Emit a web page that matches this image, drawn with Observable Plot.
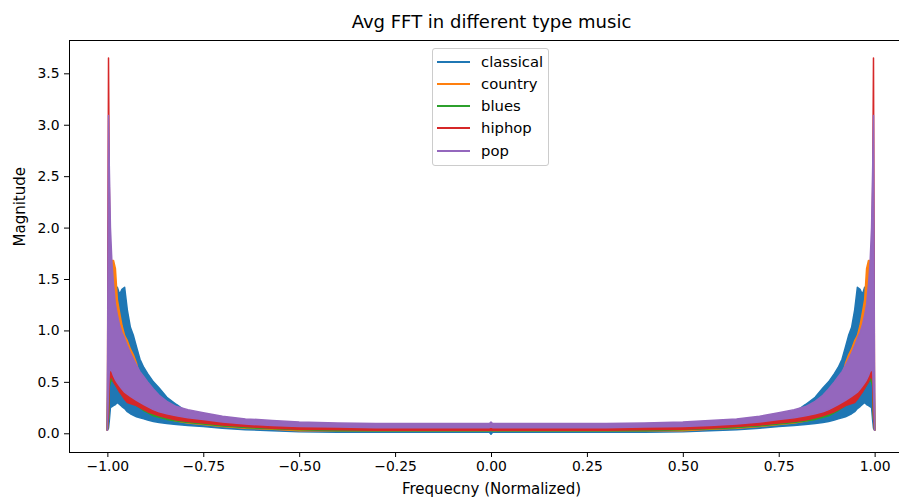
<!DOCTYPE html>
<html>
<head>
<meta charset="utf-8">
<script src="https://cdn.jsdelivr.net/npm/d3@7"></script>
<script src="https://cdn.jsdelivr.net/npm/@observablehq/plot@0.6"></script>
<style>
  html, body { margin: 0; padding: 0; background: #fff; overflow: hidden; }
  #wrap { position: relative; width: 899px; height: 497px; overflow: hidden; font-family: "DejaVu Sans", sans-serif; }
  #chart svg { max-width: none !important; }
  #legend { position: absolute; left: 432px; top: 48px; width: 117px; height: 118px; box-sizing: border-box;
    border: 1px solid #cccccc; border-radius: 3px; background: rgba(255,255,255,0.8); }
  .item { position: absolute; left: 0; height: 20px; width: 116px; }
  .item .sw { position: absolute; left: 4px; top: 9px; width: 33px; height: 2px; }
  .item .lb { position: absolute; left: 48px; top: 0; line-height: 20px; font-size: 14.8px; color: #000; white-space: nowrap; }
</style>
</head>
<body>
<div id="wrap"><div id="chart"></div><div id="legend"></div></div>
<script>
// ---- data (left half, mirrored for positive frequencies) ----
const series = ["classical", "country", "blues", "hiphop", "pop"];
const colors = ["#1f77b4", "#ff7f0e", "#2ca02c", "#d62728", "#9467bd"];
const freqHalf = [-1.000, -0.997, -0.995, -0.992, -0.988, -0.984, -0.979, -0.974, -0.968, -0.962, -0.955, -0.948, -0.940, -0.932, -0.924, -0.915, -0.905, -0.895, -0.880, -0.865, -0.845, -0.82, -0.79, -0.75, -0.70, -0.64, -0.57, -0.50, -0.40, -0.30, -0.20, -0.10, -0.03, -0.004, 0];

const classicalHi = [0.05, 2.07, 1.2, 0.9, 1.0, 1.1, 1.3, 1.42, 1.35, 1.4, 1.42, 1.2, 1.03, 0.95, 0.84, 0.72, 0.64, 0.58, 0.5, 0.44, 0.35, 0.28, 0.2, 0.15, 0.11, 0.08, 0.06, 0.045, 0.035, 0.03, 0.03, 0.03, 0.03, 0.03, 0.1];
const classicalLo = [0.03, 0.05, 0.12, 0.25, 0.26, 0.27, 0.28, 0.3, 0.28, 0.26, 0.24, 0.21, 0.19, 0.175, 0.16, 0.15, 0.14, 0.13, 0.115, 0.105, 0.095, 0.085, 0.075, 0.065, 0.05, 0.035, 0.025, 0.015, 0.01, 0.01, 0.01, 0.01, 0.01, 0.01, -0.01];
const countryHi = [0.05, 1.2, 1.5, 1.65, 1.68, 1.68, 1.6, 1.3, 1.17, 1.05, 0.95, 0.9, 0.82, 0.76, 0.68, 0.55, 0.47, 0.4, 0.34, 0.28, 0.23, 0.19, 0.16, 0.13, 0.11, 0.09, 0.07, 0.06, 0.045, 0.04, 0.04, 0.04, 0.04, 0.04, 0.05];
const countryLo = [0.03, 0.15, 0.5, 0.55, 0.55, 0.52, 0.48, 0.45, 0.42, 0.39, 0.36, 0.34, 0.32, 0.3, 0.28, 0.26, 0.23, 0.21, 0.18, 0.16, 0.14, 0.12, 0.1, 0.085, 0.065, 0.05, 0.04, 0.025, 0.025, 0.025, 0.025, 0.025, 0.025, 0.025, 0.03];
const bluesHi = [0.05, 1.0, 1.3, 1.39, 1.39, 1.2, 0.9, 0.75, 0.65, 0.55, 0.48, 0.42, 0.37, 0.33, 0.3, 0.27, 0.24, 0.22, 0.19, 0.17, 0.15, 0.13, 0.11, 0.1, 0.085, 0.07, 0.06, 0.05, 0.045, 0.04, 0.04, 0.04, 0.04, 0.04, 0.05];
const bluesLo = [0.03, 0.15, 0.45, 0.5, 0.52, 0.5, 0.47, 0.44, 0.41, 0.38, 0.35, 0.33, 0.31, 0.29, 0.27, 0.25, 0.22, 0.2, 0.17, 0.155, 0.135, 0.12, 0.105, 0.09, 0.07, 0.055, 0.045, 0.035, 0.025, 0.025, 0.025, 0.025, 0.025, 0.025, 0.03];
const hiphopHi = [0.05, 3.65, 2.4, 1.6, 1.2, 1.0, 0.9, 0.8, 0.7, 0.6, 0.5, 0.42, 0.38, 0.36, 0.34, 0.31, 0.28, 0.26, 0.23, 0.21, 0.19, 0.17, 0.15, 0.13, 0.11, 0.09, 0.075, 0.065, 0.06, 0.058, 0.058, 0.058, 0.058, 0.058, 0.06];
const hiphopLo = [0.03, 0.2, 0.5, 0.55, 0.54, 0.5, 0.47, 0.44, 0.4, 0.37, 0.33, 0.3, 0.29, 0.28, 0.27, 0.25, 0.23, 0.21, 0.19, 0.17, 0.15, 0.13, 0.115, 0.1, 0.08, 0.065, 0.05, 0.04, 0.035, 0.03, 0.03, 0.03, 0.03, 0.03, 0.03];
const popHi = [0.05, 3.09, 2.6, 2.0, 1.65, 1.45, 1.25, 1.15, 1.05, 0.98, 0.92, 0.85, 0.78, 0.72, 0.66, 0.6, 0.55, 0.5, 0.43, 0.37, 0.31, 0.26, 0.23, 0.2, 0.165, 0.14, 0.125, 0.11, 0.1, 0.095, 0.095, 0.095, 0.095, 0.095, 0.11];
const popLo = [0.03, 0.4, 0.6, 0.62, 0.6, 0.56, 0.52, 0.49, 0.46, 0.43, 0.4, 0.38, 0.36, 0.34, 0.32, 0.3, 0.28, 0.26, 0.23, 0.21, 0.19, 0.17, 0.15, 0.135, 0.11, 0.09, 0.075, 0.065, 0.06, 0.055, 0.055, 0.055, 0.055, 0.055, 0.06];

const xTicks = [-1.0, -0.75, -0.5, -0.25, 0, 0.25, 0.5, 0.75, 1.0];
const yTicks = [0, 0.5, 1.0, 1.5, 2.0, 2.5, 3.0, 3.5];
const titleText = "Avg FFT in different type music";
const xLabel = "Frequecny (Normalized)";
const yLabel = "Magnitude";

const his = [classicalHi, countryHi, bluesHi, hiphopHi, popHi];
const los = [classicalLo, countryLo, bluesLo, hiphopLo, popLo];

const tables = series.map((s, k) => {
  const rows = [];
  freqHalf.forEach((f, i) => rows.push({series: s, x: f, lo: los[k][i], hi: his[k][i]}));
  for (let i = freqHalf.length - 2; i >= 0; i--) rows.push({series: s, x: -freqHalf[i], lo: los[k][i], hi: his[k][i]});
  return rows;
});

const chart = Plot.plot({
  width: 920,
  height: 497,
  marginLeft: 69,
  marginRight: 7,
  marginTop: 40,
  marginBottom: 45,
  style: {fontFamily: "DejaVu Sans, sans-serif", fontSize: "13.9px", color: "#000", background: "transparent", maxWidth: "none"},
  x: {domain: [-1.1, 1.1]},
  y: {domain: [-0.182, 3.824]},
  marks: [
    ...series.map((s, k) => Plot.areaY(tables[k], {
      x: "x", y1: "lo", y2: "hi", fill: colors[k], stroke: colors[k], strokeWidth: 1.5, strokeLinejoin: "round"
    })),
    Plot.frame({stroke: "#000", strokeWidth: 1}),
    Plot.axisX({ticks: xTicks, tickFormat: d3.format(".2f"), tickSize: 5, tickPadding: 4, label: null, fontSize: 13.9}),
    Plot.axisY({ticks: yTicks, tickFormat: d3.format(".1f"), tickSize: 5, tickPadding: 5, label: null, fontSize: 13.9}),
    Plot.text([titleText], {text: d => d, frameAnchor: "top", dy: -18, lineAnchor: "middle", fontSize: 18}),
    Plot.text([xLabel], {text: d => d, frameAnchor: "bottom", dy: 37, lineAnchor: "middle", fontSize: 15}),
    Plot.text([yLabel], {text: d => d, frameAnchor: "left", dx: -49, rotate: -90, lineAnchor: "middle", fontSize: 15})
  ]
});
document.getElementById("chart").appendChild(chart);

const legend = document.getElementById("legend");
series.forEach((s, k) => {
  const item = document.createElement("div");
  item.className = "item";
  item.style.top = (2.5 + k * 22.3) + "px";
  item.innerHTML = `<div class="sw" style="background:${colors[k]}"></div><div class="lb">${s}</div>`;
  legend.appendChild(item);
});
</script>
</body>
</html>
